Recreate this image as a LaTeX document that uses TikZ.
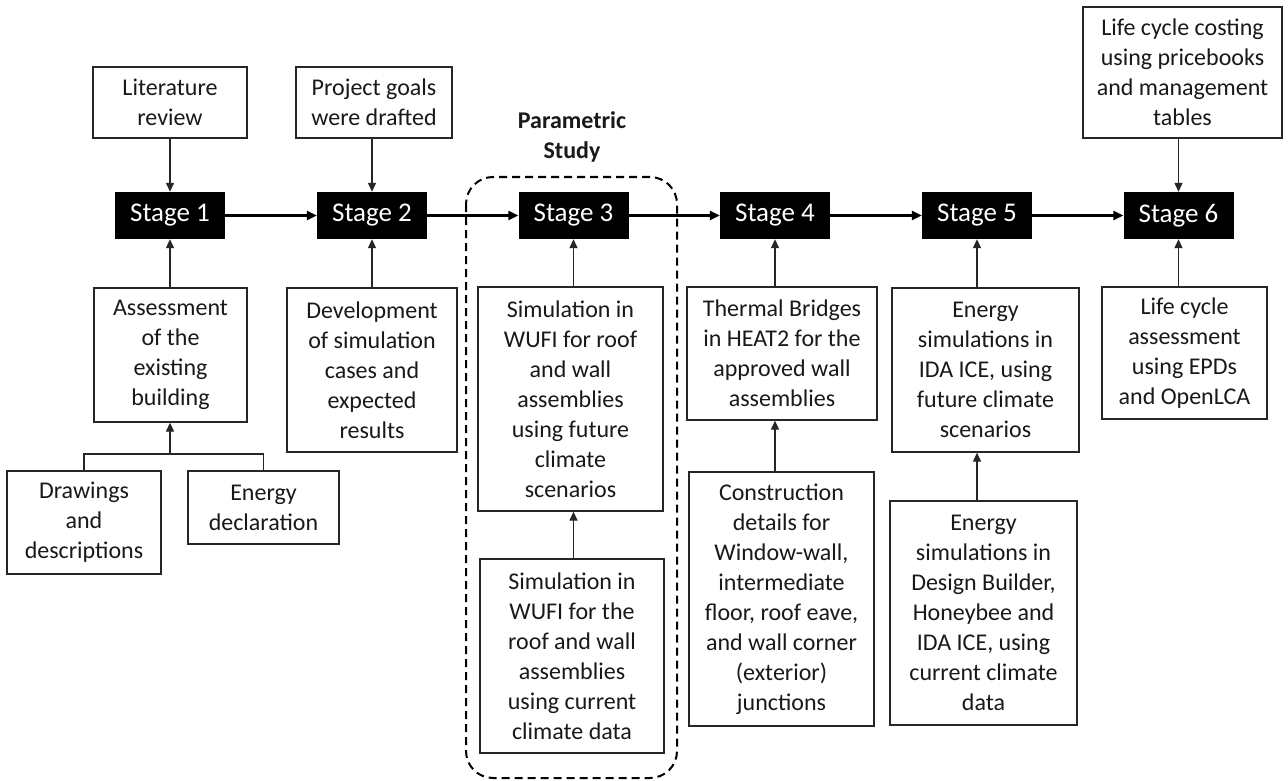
\documentclass[tikz,border=0pt]{standalone}
\usepackage{fontspec}
\setmainfont{Carlito}
\usetikzlibrary{arrows.meta}
\newcommand{\bodyfs}{\fontsize{24}{30}\selectfont}
\newcommand{\stagefs}{\fontsize{27}{32}\selectfont}
\tikzset{
  box/.style={draw=black!85, line width=1.3pt, fill=white, align=center, font=\bodyfs, inner sep=0pt, text=black!90},
  stagebox/.style={fill=black, text=white, font=\stagefs, inner sep=0pt, minimum width=110pt, minimum height=47pt},
  flowarr/.style={line width=2.5pt, -{Triangle[length=10pt,width=9pt]}},
  uparr/.style={line width=1.3pt, draw=black!85, -{Triangle[length=9pt,width=8pt]}},
  plainline/.style={line width=1.3pt, draw=black!85},
  studybox/.style={draw=black, line width=2pt, dash pattern=on 8pt off 5pt, rounded corners=27pt}
}
\begin{document}
\begin{tikzpicture}[x=1pt,y=-1pt]
\useasboundingbox[fill=white] (0,0) rectangle (1288,781);

% dashed parametric study region
\draw[studybox] (466,177) rectangle (677,778);
\node[font=\bodyfs\bfseries, align=center, text=black!90] (ps) at (572,137) {Parametric\\Study};

% stages
\node[stagebox] (s1) at (170,215.5) {Stage 1};
\node[stagebox] (s2) at (372,215.5) {Stage 2};
\node[stagebox] (s3) at (573.5,215.5) {Stage 3};
\node[stagebox] (s4) at (775,215.5) {Stage 4};
\node[stagebox] (s5) at (977,215.5) {Stage 5};
\node[stagebox] (s6) at (1178.5,215.5) {Stage 6};

% top boxes
\node[box, minimum width=154pt, minimum height=71pt] (lit) at (170,102.5) {Literature\\review};
\node[box, minimum width=156pt, minimum height=71pt] (goals) at (374,102.5) {Project goals\\were drafted};
\node[box, minimum width=199pt, minimum height=131pt] (lcc) at (1182.5,72.5) {Life cycle costing\\using pricebooks\\and management\\tables};

% lower boxes
\node[box, minimum width=153pt, minimum height=134pt] (assess) at (170.5,355) {Assessment\\of the\\existing\\building};
\node[box, minimum width=170pt, minimum height=164pt] (dev) at (372,370) {Development\\of simulation\\cases and\\expected\\results};
\node[box, minimum width=154pt, minimum height=103pt] (drw) at (84,522.5) {Drawings\\and\\descriptions};
\node[box, minimum width=151pt, minimum height=73pt] (edecl) at (263.5,507.5) {Energy\\declaration};
\node[box, minimum width=185pt, minimum height=224pt] (sim1) at (570.5,399) {Simulation in\\WUFI for roof\\and wall\\assemblies\\using future\\climate\\scenarios};
\node[box, minimum width=184pt, minimum height=194pt] (sim2) at (572,656) {Simulation in\\WUFI for the\\roof and wall\\assemblies\\using current\\climate data};
\node[box, minimum width=190pt, minimum height=133pt] (therm) at (782,353.5) {Thermal Bridges\\in HEAT2 for the\\approved wall\\assemblies};
\node[box, minimum width=185pt, minimum height=254pt] (constr) at (781.5,599) {Construction\\details for\\Window-wall,\\intermediate\\floor, roof eave,\\and wall corner\\(exterior)\\junctions};
\node[box, minimum width=187pt, minimum height=164pt] (en1) at (985.5,370) {Energy\\simulations in\\IDA ICE, using\\future climate\\scenarios};
\node[box, minimum width=187pt, minimum height=224pt] (en2) at (983.5,613) {Energy\\simulations in\\Design Builder,\\Honeybee and\\IDA ICE, using\\current climate\\data};
\node[box, minimum width=165pt, minimum height=132pt] (lca) at (1184.5,353) {Life cycle\\assessment\\using EPDs\\and OpenLCA};

% stage flow
\draw[flowarr] (s1) -- (s2);
\draw[flowarr] (s2) -- (s3);
\draw[flowarr] (s3) -- (s4);
\draw[flowarr] (s4) -- (s5);
\draw[flowarr] (s5) -- (s6);

% top inputs
\draw[uparr] (lit.south -| s1) -- (s1.north);
\draw[uparr] (goals.south -| s2) -- (s2.north);
\draw[uparr] (lcc.south -| s6) -- (s6.north);

% bottom inputs
\draw[uparr] (assess.north -| s1) -- (s1.south);
\draw[uparr] (dev.north -| s2) -- (s2.south);
\draw[uparr] (sim1.north -| s3) -- (s3.south);
\draw[uparr] (sim2.north -| s3) -- (sim1.south -| s3);
\draw[uparr] (therm.north -| s4) -- (s4.south);
\draw[uparr] (constr.north -| s4) -- (therm.south -| s4);
\draw[uparr] (en1.north -| s5) -- (s5.south);
\draw[uparr] (en2.north -| s5) -- (en1.south -| s5);
\draw[uparr] (lca.north -| s6) -- (s6.south);

% branch from drawings and energy declaration
\coordinate (br) at (170,454);
\draw[plainline] (drw.north) |- (br) -| (edecl.north);
\draw[uparr] (br) -- (br |- assess.south);
\end{tikzpicture}
\end{document}
